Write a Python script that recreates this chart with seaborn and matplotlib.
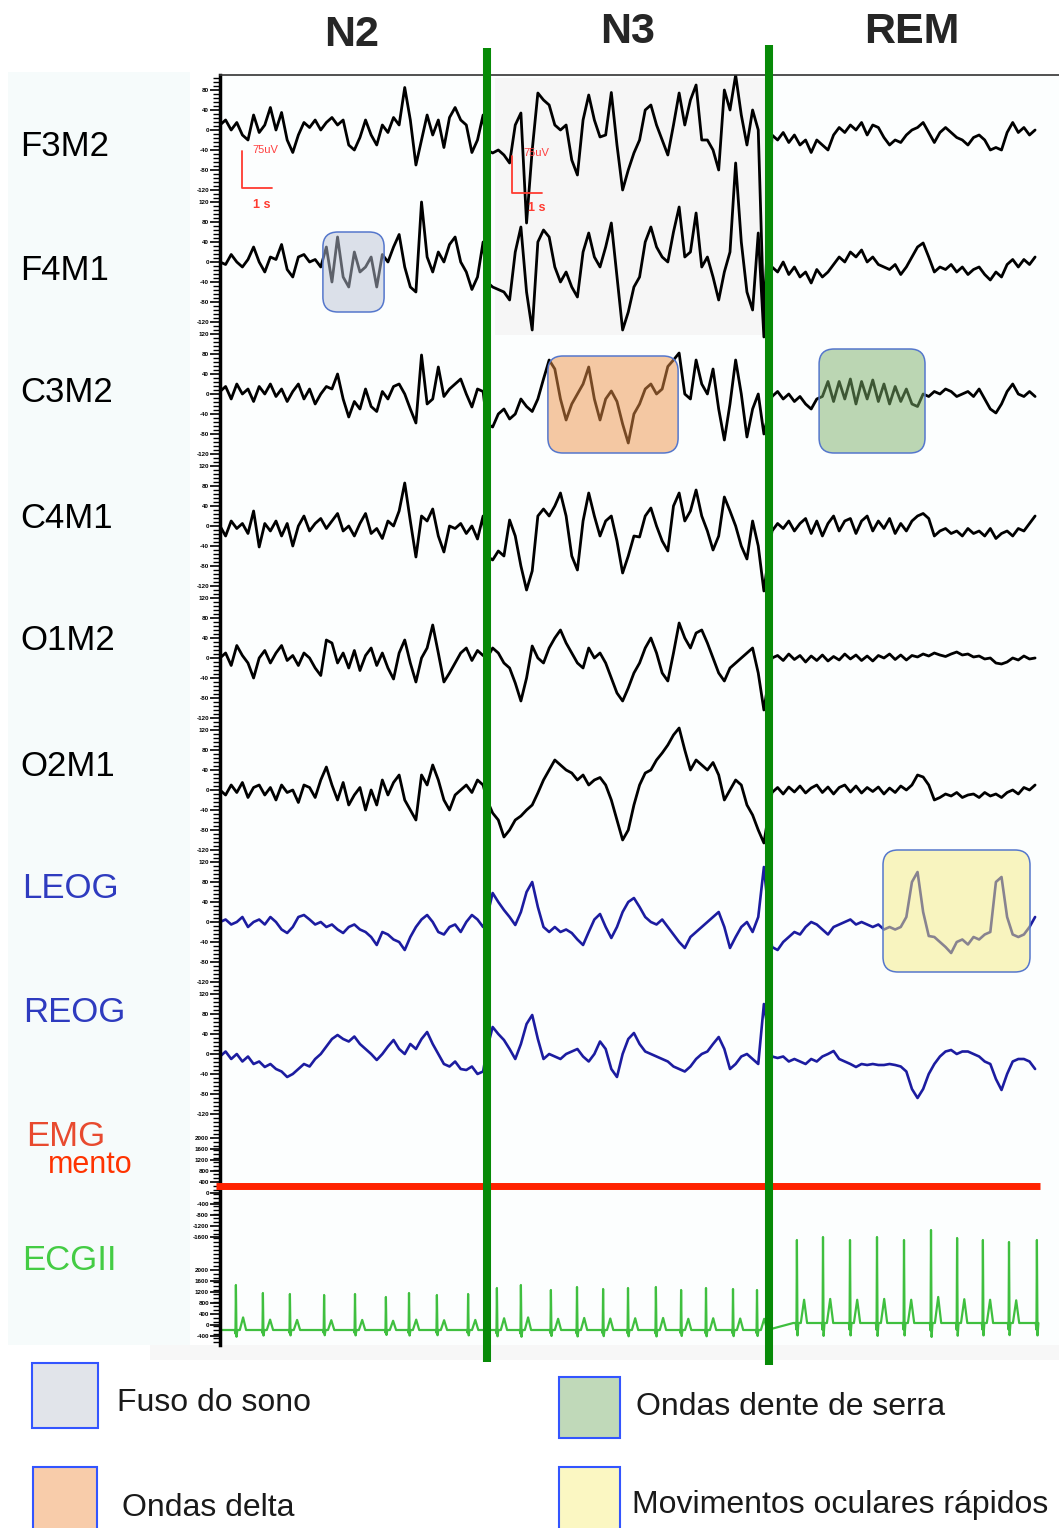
import numpy as np
import matplotlib
matplotlib.use("Agg")
import matplotlib.pyplot as plt
import seaborn as sns
from matplotlib.patches import FancyBboxPatch, Rectangle
from matplotlib.ticker import FixedLocator, MultipleLocator

# ---- data (µV, positive = up), one list per channel and stage ----
STAGES = ["N2", "N3", "REM"]
STAGE_SPANS = [(0.0, 8.77), (8.9, 18.13), (18.4, 27.17)]   # seconds
STAGE_BOUNDS = [8.9, 18.3]

CHANNELS = ["F3M2", "F4M1", "C3M2", "C4M1", "O1M2", "O2M1", "LEOG", "REOG", "EMG", "ECGII"]
SPACING = 264  # µV between channel baselines

F3M2_N2 = [10, 20, 0, 15, -10, -20, 30, -5, 10, 45, 0, 35, -20, -45, -10, 15, 5, 20, 0, 15, 25, 10, 20, -30, -40,
           -15, 20, -10, -30, 10, -5, 25, 10, 85, 20, -70, -20, 30, -10, 20, -35, 25, 45, 20, 10, -45, -20, 30]
F3M2_N3 = [-40, -46, -40, -50, -66, 10, 34, -186, -40, 74, 60, 50, 10, 0, 10, -60, -90, 20, 70, 20, -14, -10, 75, -30,
           -120, -80, -46, -20, 40, 50, 10, -20, -50, 10, 74, 10, 60, 90, -20, -20, -40, -80, 80, 40, 110, 30, -30, 40, 0, -380]
F3M2_REM = [-10, -20, -5, -25, -10, -30, -20, -45, -20, -30, -40, -10, 5, -5, 10, 0, 15, -10, 10, 5, -15, -30, -20, -25,
            -10, 0, 5, 15, -5, -25, -5, 5, -5, -15, -20, -30, -15, -10, -20, -40, -35, -40, -5, 15, -5, 5, -10, 0]

F4M1_N2 = [0, -5, 15, 0, -10, 5, 30, 0, -20, 10, 5, 35, -15, -30, 10, 15, 0, 5, -10, 30, -40, 50, -30, -50, 20,
           -20, -10, 10, -50, 15, 0, 30, 55, -10, -50, -60, 120, 10, -20, 20, 0, 35, 50, 0, -20, -55, -30, 40]
F4M1_N3 = [-40, -50, -55, -60, -76, 20, 70, -60, -136, 40, 64, 50, -10, -40, -20, -50, -70, 20, 58, 10, -10, 30, 78, -30,
           -136, -100, -50, -30, 40, 70, 30, 10, 0, 60, 110, 10, 20, 98, -10, 10, -30, -76, -20, 20, 198, 40, -60, -96, 58, -150]
F4M1_REM = [-10, -20, 0, -25, -10, -30, -20, -42, -15, -30, -20, -5, 10, 0, 20, 10, 24, 0, 10, -5, -10, -15, -5, -25,
            -10, 10, 30, 38, 10, -20, -10, -15, -5, -20, -10, -25, -15, -10, -25, -36, -20, -30, -5, 5, -10, 5, -5, 10]

C3M2_N2 = [5, 15, -10, 20, 0, 10, -15, 15, 0, 20, -5, 10, -15, 5, 20, -10, 10, -20, 0, 15, 10, 40, -10, -46, -15,
           -30, 10, -25, -35, 5, -10, 15, 20, 0, -30, -58, 78, -20, -10, 54, -5, 10, 20, 30, 0, -26, 10, 5]
C3M2_N3 = [-60, -66, -40, -30, -50, -40, -10, -25, -35, -10, 30, 68, 50, -10, -52, -20, 0, 20, 54, -10, -52, -10, 6, -15,
           -60, -98, -40, -20, 10, 20, 0, 10, 55, 68, 82, 0, -10, 68, 20, 0, 50, -30, -92, -20, 68, 0, -86, -30, 0, -80]
C3M2_REM = [-5, 5, -10, 0, -15, -5, -20, -30, -10, -5, 25, -15, 25, -10, 30, -20, 25, -10, 28, -15, 20, -20, 15, -15,
            10, -20, -25, 0, -5, 5, 0, 10, 5, -5, 0, 5, -5, 10, -10, -30, -38, -20, 5, 20, 0, -5, 5, -5]

C4M1_N2 = [0, -20, 10, -5, 5, -15, 30, -42, 5, -10, 10, -20, 5, -40, 0, 20, -10, 5, 15, -5, 10, 25, -10, 0, -20,
           5, 25, -15, -5, -25, 10, 0, 30, 86, 10, -62, 20, 10, 34, -20, -52, 0, -5, 5, -15, 0, -26, 20]
C4M1_N3 = [-60, -68, -50, -60, 12, -20, -80, -128, -90, 20, 34, 20, 40, 66, 20, -60, -88, 10, 66, 20, -20, 10, 20, -30,
           -94, -60, -20, -22, 20, 36, 0, -30, -50, 40, 66, 10, 30, 72, 20, -10, -48, -20, 58, 30, 0, -40, -66, 10, -40, -130]
C4M1_REM = [-10, 5, -5, 10, -10, 5, 15, -15, 10, -20, 5, 20, -10, 10, 15, -15, 10, 20, -10, 10, -5, 15, -15, 5,
            -10, 10, 20, 25, 15, -20, -10, -5, -15, -10, -20, -5, -15, -10, -20, -5, -25, -15, -10, -20, -5, -10, 5, 20]

O1M2_N2 = [0, 10, -15, 25, 5, -10, -40, 0, 15, -10, 10, 25, -5, 5, -15, 10, 0, -20, -35, 36, 30, -10, 10, -20, 15,
           -25, 5, 20, -15, 10, -20, -42, 10, 36, -10, -48, 0, 20, 66, 10, -48, -30, -10, 10, 20, -5, 15, 5]
O1M2_N3 = [0, 20, 10, -10, -20, -50, -86, -40, 24, 0, -10, 20, 40, 56, 30, 10, -10, -20, 20, 0, 10, -10, -40, -70,
           -86, -60, -30, -10, 20, 40, 10, -30, -46, 10, 70, 40, 20, 50, 56, 30, 0, -30, -46, -20, -10, 0, 10, 20, -30, -104]
O1M2_REM = [0, 5, -5, 8, -3, 5, -8, 4, -5, 6, -6, 3, -4, 8, -2, 6, -5, 4, -6, 5, 0, 8, -3, 6,
            -4, 5, 2, 8, 4, 10, 6, 3, 8, 12, 6, 8, 2, 4, -2, 0, -10, -12, -8, 0, -4, 4, -2, 0]

O2M1_N2 = [0, -10, 10, -5, 15, -15, 5, 10, -10, 5, -20, 10, -5, 0, -25, 10, 5, -15, 20, 46, 10, -20, 15, -30, -10,
           5, -40, 0, -30, 20, -10, 15, 30, -20, -40, -60, 30, 10, 50, 20, -20, -40, -10, 0, 10, -5, 20, 10]
O2M1_N3 = [-20, -46, -60, -94, -80, -60, -52, -40, -30, -6, 20, 40, 60, 50, 40, 34, 20, 30, 10, 20, 25, 10, -20, -60,
           -100, -80, -30, 10, 34, 40, 60, 74, 90, 110, 124, 80, 40, 60, 50, 40, 55, 30, -20, 0, 20, 10, -30, -50, -80, -106]
O2M1_REM = [-5, 5, -8, 6, -4, 8, -6, 4, 10, -5, 6, -8, 5, 10, -4, 8, -6, 5, -3, 6, -8, 4, -5, 8,
            0, 10, 30, 26, 10, -20, -15, -8, -12, -5, -15, -10, -8, -15, -5, -12, -8, -15, -5, 0, -8, 5, 0, 10]

LEOG_N2 = [0, 5, -5, 0, 10, -10, 0, 5, -5, 10, 0, -15, -22, -10, 10, 14, 5, -5, 0, -10, -5, -15, -22, -10, -5,
           -15, -20, -30, -46, -20, -25, -35, -40, -56, -30, -10, 5, 14, 0, -20, -25, -10, -5, -20, 0, 14, 5, -10]
LEOG_N3 = [10, 58, 40, 24, 10, -6, 20, 60, 80, 30, -10, -20, -10, -20, -15, -22, -35, -46, -20, 5, 16, -10, -32, -10,
           20, 40, 48, 30, 10, 0, -5, 5, -10, -25, -40, -52, -30, -20, -10, 0, 10, 20, -10, -52, -30, -10, 0, -20, 10, 110]
LEOG_REM = [-50, -56, -40, -30, -20, -25, -10, 0, -5, -15, -25, -10, -5, 0, 5, -5, 0, -5, -10, -5, -15, -10, -15, -10,
            10, 80, 100, 20, -28, -30, -40, -50, -62, -40, -35, -45, -30, -35, -25, -20, 80, 90, 10, -25, -30, -25, -10, 10]

REOG_N2 = [-5, 5, -10, 0, -15, -5, -20, -15, -26, -20, -30, -35, -46, -40, -30, -20, -25, -10, 0, 15, 30, 38, 30, 25,
           35, 20, 10, 0, -12, 0, 15, 28, 10, 0, 20, 10, 30, 44, 20, 0, -20, -25, -15, -30, -32, -25, -40, -35]
REOG_N3 = [10, 54, 40, 28, 10, -10, 20, 60, 78, 30, -10, 0, -5, -10, 0, 5, 10, -5, -15, 0, 25, 10, -30, -46,
           0, 30, 42, 20, 5, 0, -5, -10, -15, -25, -30, -35, -25, -10, 0, 5, 20, 34, 10, -30, -20, -5, 0, -10, -20, 100]
REOG_REM = [-5, -8, -5, -15, -10, -15, -20, -10, -15, -5, 0, 6, -10, -15, -20, -26, -20, -22, -20, -22, -22, -20, -22, -25,
            -35, -70, -88, -70, -40, -20, -5, 5, 8, 0, 5, 5, 0, -5, -15, -20, -50, -72, -40, -15, -10, -10, -15, -30]

EMG_T = [-0.13, 27.33]
EMG_V = [0, 0]

# ECG: R-peak times (s), R amplitude (µV) and local baseline
ECG_R_T = [0.53, 1.43, 2.33, 3.47, 4.5, 5.53, 6.3, 7.23, 8.27,
           9.23, 10.03, 11.03, 11.9, 12.77, 13.6, 14.53, 15.37, 16.2, 17.1, 17.9,
           19.23, 20.1, 21.0, 21.9, 22.8, 23.7, 24.57, 25.43, 26.3, 27.23]
ECG_R_AMP = [90, 74, 72, 70, 72, 66, 74, 70, 72,
             84, 90, 80, 86, 82, 84, 86, 80, 84, 82, 80,
             166, 172, 166, 172, 166, 186, 170, 166, 162, 166]
ECG_BASE = [-24] * 20 + [-10] * 10
BEAT_DT = [-0.12, -0.04, -0.015, 0.0, 0.02, 0.05, 0.13, 0.24, 0.34]
BEAT_SHAPE = [0, 0, -0.08, 1.0, -0.15, 0, 0, 0.28, 0]
ECG_END = 27.35

Y_TICKS_EEG = [120, 80, 40, 0, -40, -80, -120]
Y_TICKS_EMG = [2000, 1600, 1200, 800, 400, 0, -400, -800, -1200, -1600]

LEGEND_LABELS = ["Fuso do sono", "Ondas delta", "Ondas dente de serra", "Movimentos oculares rápidos"]

# ---- figure ----
sns.set_theme(style="white")
plt.rcParams['font.family'] = ['Liberation Sans', 'DejaVu Sans']

W, H = 1059, 1528
fig = plt.figure(figsize=(W / 100, H / 100), dpi=100)
fig.patch.set_facecolor("white")


def fx(px):
    return px / W


def fy(py):
    return 1 - py / H


# light panel behind channel names
fig.add_artist(Rectangle((fx(8), fy(1345)), fx(182), 1273 / H, transform=fig.transFigure,
                         facecolor="#f6fbfb", edgecolor="none", zorder=0))
fig.add_artist(Rectangle((fx(150), fy(1360)), fx(909), 15 / H, transform=fig.transFigure,
                         facecolor="#f7f7f7", edgecolor="none", zorder=0))

ax = fig.add_axes([fx(220), fy(1345), fx(839), 1270 / H])
ax.set_facecolor("#fcfefe")
ax.set_xlim(0, 839 / 30)
ax.set_ylim(-2430, 110)

# grey wash over the slow-wave part of the frontal leads
ax.add_patch(Rectangle((9.17, -410), 9.0, 514, facecolor="#f6f6f6", edgecolor="none", zorder=0))

traces = {
    "F3M2": [F3M2_N2, F3M2_N3, F3M2_REM],
    "F4M1": [F4M1_N2, F4M1_N3, F4M1_REM],
    "C3M2": [C3M2_N2, C3M2_N3, C3M2_REM],
    "C4M1": [C4M1_N2, C4M1_N3, C4M1_REM],
    "O1M2": [O1M2_N2, O1M2_N3, O1M2_REM],
    "O2M1": [O2M1_N2, O2M1_N3, O2M1_REM],
    "LEOG": [LEOG_N2, LEOG_N3, LEOG_REM],
    "REOG": [REOG_N2, REOG_N3, REOG_REM],
}
for i, ch in enumerate(CHANNELS[:8]):
    off = -i * SPACING
    t_all, v_all = [], []
    for (t0, t1), seg in zip(STAGE_SPANS, traces[ch]):
        t_all.extend(np.linspace(t0, t1, len(seg)))
        v_all.extend(np.array(seg) + off)
    eog = "EOG" in ch
    sns.lineplot(x=t_all, y=v_all, ax=ax, color="#1c1ca0" if eog else "black",
                 linewidth=1.9 if eog else 2.0, estimator=None, sort=False, zorder=2)

# EMG (flat, saturated red)
emg_off = -8 * SPACING
ax.plot(EMG_T, np.array(EMG_V) + emg_off, color="#ff2200", lw=5, clip_on=False,
        solid_capstyle="butt", zorder=4)

# ECG
ecg_off = -9 * SPACING
ecg_t, ecg_v = [0.0], [ECG_BASE[0]]
for rt, ra, rb in zip(ECG_R_T, ECG_R_AMP, ECG_BASE):
    for dt, sh in zip(BEAT_DT, BEAT_SHAPE):
        if rt + dt <= ECG_END:
            ecg_t.append(rt + dt)
            ecg_v.append(rb + sh * ra)
sns.lineplot(x=ecg_t, y=np.array(ecg_v) + ecg_off, ax=ax, color="#3fbf3f", linewidth=1.6,
             estimator=None, sort=False, zorder=2)

# highlight boxes (time range, channel, µV bottom/top); half-transparent so the trace shows through
boxes = [
    (3.43, 5.47, 1, -100, 60, "#bbc3d5"),
    (10.93, 15.27, 2, -118, 76, "#ed9349"),
    (19.97, 23.5, 2, -118, 90, "#7baf69"),
    (22.1, 27.0, 6, -100, 144, "#f5eb81"),
]
for t0, t1, ci, lo, hi, fc in boxes:
    off = -ci * SPACING
    ax.add_patch(FancyBboxPatch((t0, off + lo), t1 - t0, hi - lo,
                                boxstyle="round,pad=0,rounding_size=0.5", mutation_aspect=60,
                                facecolor=matplotlib.colors.to_rgba(fc, 0.5),
                                edgecolor="#5577cc", lw=1.1, zorder=3))

# calibration marks
for tx, yb, ttx, tty, stx, sty in [(0.73, -116, 1.07, -40, 1.1, -150), (9.73, -126, 10.1, -46, 10.27, -156)]:
    ax.plot([tx, tx, tx + 1], [yb + 75, yb, yb], color="#ff3b30", lw=1.3, zorder=4)
    ax.text(ttx, tty, "75uV", color="#ff4040", fontsize=8, va="center", zorder=4)
    ax.text(stx, sty, "1 s", color="#ff3b30", fontsize=9, fontweight="bold", va="center", zorder=4)

# stage boundaries
for tb, y_top, y_bot in [(STAGE_BOUNDS[0], 164, -2464), (STAGE_BOUNDS[1], 170, -2470)]:
    ax.plot([tb, tb], [y_top, y_bot], color="#078a07", lw=5.8, clip_on=False,
            solid_capstyle="butt", zorder=6)

# amplitude ruler on the left spine
pos, lab = [], []
for i in range(len(CHANNELS)):
    off = -i * SPACING
    if i < 8:
        for v in Y_TICKS_EEG:
            pos.append(off + v)
            lab.append(str(v))
    else:
        for v in Y_TICKS_EMG:
            pos.append(off - 14 + v * 0.055)
            lab.append(str(v))
ax.yaxis.set_major_locator(FixedLocator(pos))
ax.set_yticklabels(lab)
ax.yaxis.set_minor_locator(MultipleLocator(8))
ax.tick_params(axis="y", which="major", left=True, length=7, width=1.2, direction="out",
               pad=1, labelsize=4.5, colors="black")
ax.tick_params(axis="y", which="minor", left=True, length=5, width=1.0, direction="out", colors="black")
for t in ax.get_yticklabels():
    t.set_fontweight("bold")
ax.set_xticks([])
ax.set_xlabel("")
ax.set_ylabel("")
for s in ["right", "bottom"]:
    ax.spines[s].set_visible(False)
ax.spines["left"].set_linewidth(2.5)
ax.spines["left"].set_color("black")
ax.spines["top"].set_linewidth(1.2)
ax.spines["top"].set_color("#333333")

# stage titles
for name, (px, py) in zip(STAGES, [(352, 35), (628, 32), (912, 32)]):
    fig.text(fx(px), fy(py), name, ha="center", va="center", fontsize=31, fontweight="bold")

# channel names
label_pos = [(20, 147), (20, 270), (20, 393), (20, 518), (20, 641), (20, 766),
             (22, 888), (23, 1012), (26, 1137), (22, 1260)]
label_col = ["black"] * 6 + ["#2e3bbf", "#2e3bbf", "#e84a2f", "#44cc44"]
for ch, (px, py), c in zip(CHANNELS, label_pos, label_col):
    fig.text(fx(px), fy(py), ch, ha="left", va="center", fontsize=25, color=c)
fig.text(fx(48), fy(1165), "mento", ha="left", va="center", fontsize=22, color="#ff3300")

# legend
leg_boxes = [(32, 1363, 66, 65, "#e1e4ea"), (33, 1467, 64, 70, "#f8ccaa"),
             (559, 1377, 61, 61, "#c0d9b9"), (559, 1467, 61, 70, "#fbf7c2")]
leg_text = [(117, 1403), (122, 1508), (636, 1407), (632, 1505)]
for (x0, y0, w, h, fc), (tx, ty), txt in zip(leg_boxes, leg_text, LEGEND_LABELS):
    fig.add_artist(Rectangle((fx(x0), fy(y0 + h)), w / W, h / H, transform=fig.transFigure,
                             facecolor=fc, edgecolor="#3355ff", lw=1.5))
    fig.text(fx(tx), fy(ty), txt, ha="left", va="center", fontsize=23, color="#1a1a1a")

fig.savefig("out.png", dpi=100, facecolor="white")
